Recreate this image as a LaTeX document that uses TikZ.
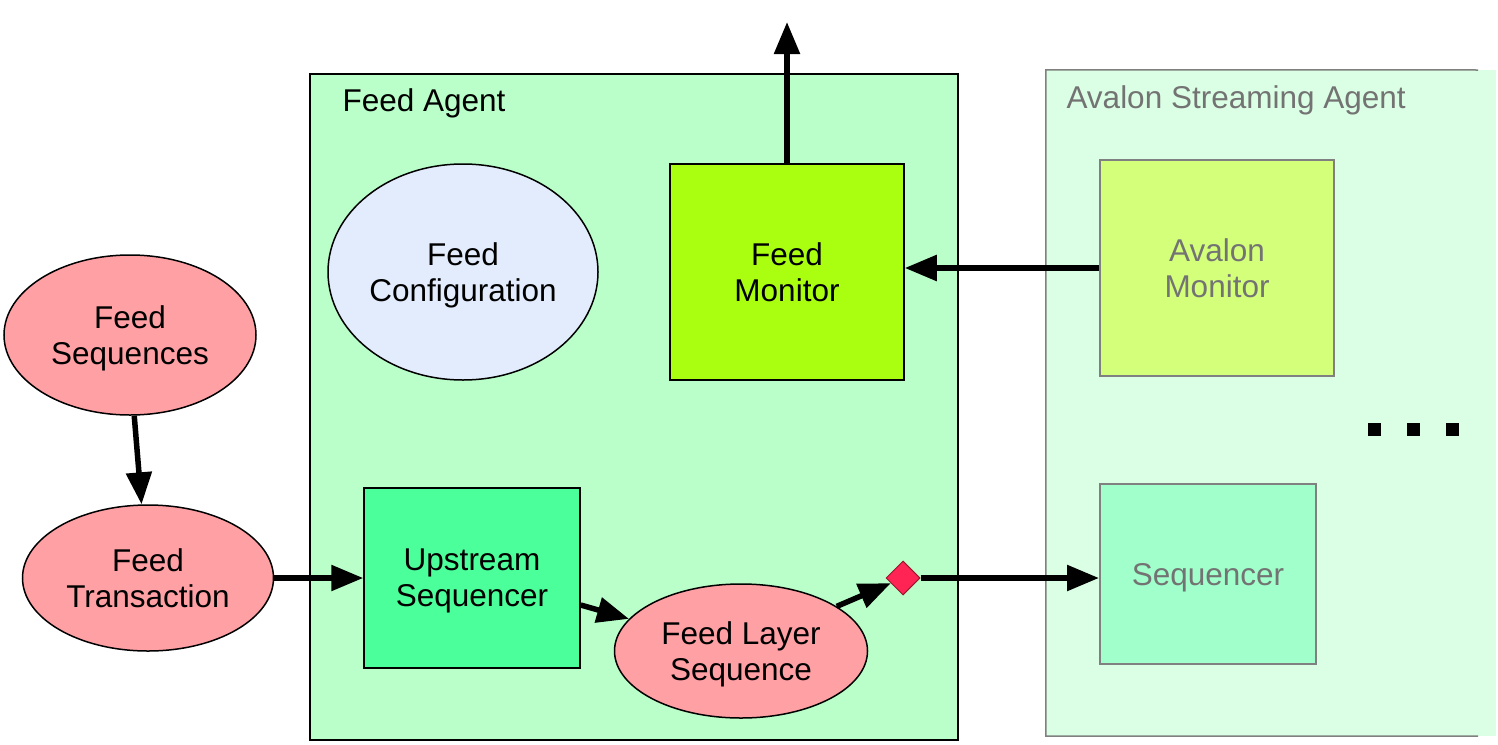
\documentclass[tikz,border=0pt]{standalone}
\usepackage{fontspec}
\setmainfont{Liberation Sans}
\usetikzlibrary{arrows.meta,positioning,calc,shapes.geometric}
\definecolor{agentgreen}{HTML}{BAFFC9}
\definecolor{streamgreen}{HTML}{DBFFE4}
\definecolor{cfgblue}{HTML}{E3ECFC}
\definecolor{monlime}{HTML}{AAFF11}
\definecolor{avmonlime}{HTML}{D4FF7B}
\definecolor{upgreen}{HTML}{4BFF9A}
\definecolor{seqgreen}{HTML}{A0FFCA}
\definecolor{seqpink}{HTML}{FFA0A5}
\definecolor{gatered}{HTML}{FF2454}
\definecolor{avgray}{HTML}{737373}
\begin{document}
\begin{tikzpicture}[x=1pt,y=-1pt,font=\fontsize{31.5}{36}\selectfont,
  flow/.style={-{Triangle[length=32pt,width=25pt]},line width=5.5pt},
  blob/.style={ellipse,draw,line width=1.5pt,align=center,inner sep=0pt,text depth=0pt},
  unit/.style={rectangle,draw,line width=1.5pt,align=center,inner sep=0pt,text depth=0pt},
  avunit/.style={unit,draw=gray,line width=2pt,text=avgray}]
\useasboundingbox (0,0) rectangle (1498,744);
\node[draw,fill=agentgreen,line width=2pt,minimum width=648pt,minimum height=666pt,inner sep=0pt] (fa) at (634,407) {};
\node[fill=streamgreen,minimum width=450pt,minimum height=666pt,inner sep=0pt] (asa) at (1271,403) {};
\draw[gray,line width=1.5pt] (1478,70) -- (asa.north west) -- (asa.south west) -- (1478,736);
\node[anchor=base west] (falbl) at (339,111) {Feed Agent};
\node[anchor=base west,text=avgray] (asalbl) at (1063,108) {Avalon Streaming Agent};
\node[blob,fill=seqpink,minimum width=252pt,minimum height=160pt] (fseq) at (130,335) {Feed\\Sequences};
\node[blob,fill=seqpink,minimum width=251pt,minimum height=146pt] (ftx) at (148,578) {Feed\\Transaction};
\node[blob,fill=cfgblue,minimum width=270pt,minimum height=216pt] (fcfg) at (463,272) {Feed\\Configuration};
\node[unit,fill=monlime,minimum width=234pt,minimum height=216pt] (fmon) at (787,272) {Feed\\Monitor};
\node[unit,fill=upgreen,minimum width=216pt,minimum height=180pt] (useq) at (472,578) {Upstream\\Sequencer};
\node[blob,fill=seqpink,minimum width=253pt,minimum height=134pt] (fls) at (741,651) {Feed Layer\\Sequence};
\node[diamond,draw=gatered!60!black,fill=gatered,line width=1pt,minimum size=34pt,inner sep=0pt] (gate) at (903,578) {};
\node[avunit,fill=avmonlime,minimum width=234pt,minimum height=216pt] (amon) at (1217,268) {Avalon\\Monitor};
\node[avunit,fill=seqgreen,minimum width=216pt,minimum height=180pt] (seq) at (1208,574) {Sequencer};
\foreach \x [count=\i] in {1374,1413,1452}
  \node[fill,minimum size=13pt,inner sep=0pt] (dot\i) at (\x,429) {};
\coordinate (up) at (787,22);
\draw[flow] (fseq.-87) -- (ftx.95);
\draw[flow] (ftx.east) -- (useq.west);
\draw[flow] ($(useq.east)+(0,27)$) -- (fls);
\draw[flow] (fls.25) -- (gate);
\draw[flow] (gate.east) -- (gate.east -| seq.west);
\draw[flow] (amon.west) -- (amon.west -| fmon.east);
\draw[flow] (fmon.north) -- (up);
\end{tikzpicture}
\end{document}
